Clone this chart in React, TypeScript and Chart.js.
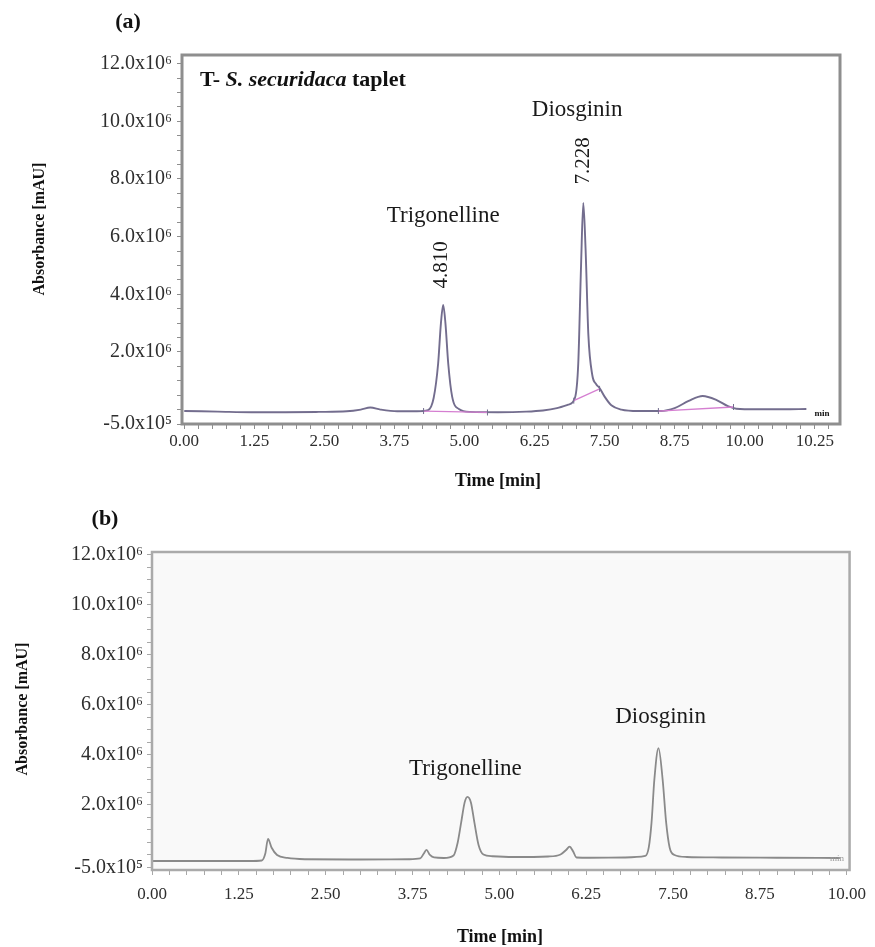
import React, { useEffect, useRef } from 'react';
import { Chart, registerables } from 'chart.js';

Chart.register(...registerables);

const FONT = '"Liberation Serif", "Times New Roman", serif';

// ---------------- Panel (a): T- S. securidaca taplet ----------------
// time [min] and absorbance [x10^6 mAU]
const timeA = [0.0, 0.6, 1.2, 1.8, 2.4, 2.9, 3.15, 3.32, 3.5, 3.8, 4.15, 4.35, 4.45, 4.53, 4.58, 4.62, 4.66, 4.71, 4.78, 4.9, 5.1, 5.6, 6.1, 6.4, 6.65, 6.85, 6.97, 7.03, 7.08, 7.12, 7.16, 7.21, 7.28, 7.35, 7.41, 7.5, 7.62, 7.8, 8.1, 8.5, 8.75, 9.0, 9.25, 9.5, 9.7, 9.85, 10.2, 10.7, 11.1];
const absA = [-0.05, -0.07, -0.09, -0.09, -0.08, -0.06, 0.0, 0.07, 0.0, -0.06, -0.06, -0.02, 0.4, 1.6, 3.0, 3.63, 3.0, 1.6, 0.45, 0.02, -0.08, -0.09, -0.07, -0.03, 0.05, 0.17, 0.4, 1.6, 5.0, 7.17, 5.6, 2.6, 1.2, 0.88, 0.75, 0.45, 0.15, 0.0, -0.05, -0.05, 0.05, 0.3, 0.47, 0.33, 0.12, 0.03, 0.01, 0.01, 0.02];

// integration baselines (pink)
const integStartTimeA = [4.27, 6.95, 8.46];
const integStartAbsA = [-0.05, 0.31, -0.05];
const integEndTimeA = [5.41, 7.41, 9.8];
const integEndAbsA = [-0.1, 0.72, 0.09];

const peakNamesA = ['Trigonelline', 'Diosginin'];
const peakNameTimeA = [4.62, 7.01];
const peakNameAbsA = [6.7, 10.4];
const peakRTLabelsA = ['4.810', '7.228'];
const peakRTTimeA = [4.59, 7.12];
const peakRTAbsA = [5.02, 8.63];

const xTickLabelsA = ['0.00', '1.25', '2.50', '3.75', '5.00', '6.25', '7.50', '8.75', '10.00', '10.25'];
const xTickValuesA = [0, 1.25, 2.5, 3.75, 5, 6.25, 7.5, 8.75, 10, 11.25];

// ---------------- Panel (b) ----------------
const timeB = [0.0, 0.8, 1.4, 1.58, 1.63, 1.67, 1.72, 1.8, 1.95, 2.2, 3.0, 3.7, 3.86, 3.91, 3.95, 4.0, 4.06, 4.2, 4.34, 4.4, 4.45, 4.5, 4.54, 4.59, 4.64, 4.7, 4.77, 4.9, 5.2, 5.7, 5.88, 5.96, 6.01, 6.06, 6.11, 6.3, 6.8, 7.1, 7.15, 7.19, 7.23, 7.29, 7.35, 7.4, 7.45, 7.52, 7.7, 8.2, 9.0, 9.9];
const absB = [-0.24, -0.24, -0.24, -0.22, 0.05, 0.64, 0.3, 0.0, -0.12, -0.17, -0.18, -0.17, -0.14, 0.05, 0.2, 0.0, -0.1, -0.12, -0.02, 0.5, 1.3, 2.1, 2.32, 2.1, 1.3, 0.4, 0.02, -0.05, -0.08, -0.06, 0.02, 0.2, 0.33, 0.15, -0.1, -0.11, -0.1, -0.04, 0.3, 1.3, 3.0, 4.27, 3.0, 1.3, 0.3, 0.0, -0.08, -0.1, -0.11, -0.12];

const peakNamesB = ['Trigonelline', 'Diosginin'];
const peakNameTimeB = [4.51, 7.32];
const peakNameAbsB = [3.43, 5.5];

const xTickLabelsB = ['0.00', '1.25', '2.50', '3.75', '5.00', '6.25', '7.50', '8.75', '10.00'];
const xTickValuesB = [0, 1.25, 2.5, 3.75, 5, 6.25, 7.5, 8.75, 10];

// shared y axis labels (x10^6 mAU)
const yTickLabels = ['-5.0x10\u2075', '2.0x10\u2076', '4.0x10\u2076', '6.0x10\u2076', '8.0x10\u2076', '10.0x10\u2076', '12.0x10\u2076'];
const yTickValues = [-0.5, 2, 4, 6, 8, 10, 12];

const X_AXIS_H = 40;

function labelFor(v: number, values: number[], labels: string[]): string {
  const i = values.findIndex((t) => Math.abs(t - v) < 1e-6);
  return i >= 0 ? labels[i] : '';
}

function drawText(ctx: CanvasRenderingContext2D, text: string, x: number, y: number, font: string, color: string, rotate = 0, align: CanvasTextAlign = 'center') {
  ctx.save();
  ctx.font = font;
  ctx.fillStyle = color;
  ctx.textAlign = align;
  ctx.textBaseline = 'middle';
  ctx.translate(x, y);
  if (rotate) ctx.rotate(rotate);
  ctx.fillText(text, 0, 0);
  ctx.restore();
}

interface PanelSpec {
  id: string;
  offsetTop: number;
  width: number;
  height: number;
  area: { left: number; top: number; right: number; bottom: number };
  xMin: number;
  xMax: number;
  yMin: number;
  yMax: number;
  xMinorCount: number;
  xTickValues: number[];
  xTickLabels: string[];
  xTickPad: number;
  yTickPad: number;
  tickColor: string;
  datasets: any[];
  background: string;
  frameColor: string;
  frameWidth: number;
  draw: (chart: any) => void;
}

const yMinor = Array.from({ length: 26 }, (_, i) => -0.5 + i * 0.5);

const lineA = '#736d8e';
const pinkA = '#d57fd1';

const datasetsA = [
  ...integStartTimeA.map((t, i) => ({
    data: [
      { x: t, y: integStartAbsA[i] },
      { x: integEndTimeA[i], y: integEndAbsA[i] },
    ],
    borderColor: pinkA,
    borderWidth: 1.3,
    pointStyle: 'line',
    rotation: 90,
    pointRadius: 3,
    pointBorderColor: lineA,
    pointBorderWidth: 1,
    order: 0,
  })),
  {
    data: timeA.map((t, i) => ({ x: t, y: absA[i] })),
    borderColor: lineA,
    borderWidth: 1.9,
    pointRadius: 0,
    cubicInterpolationMode: 'monotone',
    fill: false,
    order: 1,
  },
];

const datasetsB = [
  {
    data: timeB.map((t, i) => ({ x: t, y: absB[i] })),
    borderColor: '#8a8a8a',
    borderWidth: 1.8,
    pointRadius: 0,
    cubicInterpolationMode: 'monotone',
    fill: false,
  },
];

const panelA: PanelSpec = {
  id: 'a',
  offsetTop: 0,
  width: 875,
  height: 495,
  area: { left: 182, top: 55, right: 840, bottom: 424 },
  xMin: -0.04,
  xMax: 11.7,
  yMin: -0.5,
  yMax: 12.3,
  xMinorCount: 47,
  xTickValues: xTickValuesA,
  xTickLabels: xTickLabelsA,
  xTickPad: 2,
  yTickPad: 5,
  tickColor: '#8e8e8e',
  datasets: datasetsA,
  background: '#ffffff',
  frameColor: '#8e8e8e',
  frameWidth: 3,
  draw: (chart: any) => {
    const { ctx, chartArea: ca, scales } = chart;
    const x = scales.x;
    const y = scales.y;
    peakNamesA.forEach((n, i) =>
      drawText(ctx, n, x.getPixelForValue(peakNameTimeA[i]), y.getPixelForValue(peakNameAbsA[i]), `23px ${FONT}`, '#1a1a1a'),
    );
    peakRTLabelsA.forEach((n, i) =>
      drawText(ctx, n, x.getPixelForValue(peakRTTimeA[i]), y.getPixelForValue(peakRTAbsA[i]), `21px ${FONT}`, '#1a1a1a', -Math.PI / 2),
    );
    // sample title with italic species name
    const segs = [
      { t: 'T- ', it: false },
      { t: 'S. securidaca', it: true },
      { t: ' taplet', it: false },
    ];
    let px = ca.left + 18;
    const py = ca.top + 25;
    segs.forEach((s) => {
      const f = `${s.it ? 'italic ' : ''}bold 22px ${FONT}`;
      ctx.save();
      ctx.font = f;
      drawText(ctx, s.t, px, py, f, '#111111', 0, 'left');
      px += ctx.measureText(s.t).width;
      ctx.restore();
    });
    drawText(ctx, 'min', 822, 414, `bold 9px ${FONT}`, '#111111');
    drawText(ctx, '(a)', 128, 22, `bold 22px ${FONT}`, '#111111');
    drawText(ctx, 'Absorbance [mAU]', 40, 229, `bold 16px ${FONT}`, '#111111', -Math.PI / 2);
    drawText(ctx, 'Time [min]', 498, 481, `bold 18px ${FONT}`, '#111111');
  },
};

const panelB: PanelSpec = {
  id: 'b',
  offsetTop: 495,
  width: 875,
  height: 452,
  area: { left: 152, top: 57, right: 853, bottom: 375 },
  xMin: 0,
  xMax: 10.04,
  yMin: -0.6,
  yMax: 12.1,
  xMinorCount: 41,
  xTickValues: xTickValuesB,
  xTickLabels: xTickLabelsB,
  xTickPad: 9,
  yTickPad: 4,
  tickColor: '#a8a8a8',
  datasets: datasetsB,
  background: '#f9f9f9',
  frameColor: '#aaaaaa',
  frameWidth: 2.5,
  draw: (chart: any) => {
    const { ctx, scales } = chart;
    const x = scales.x;
    const y = scales.y;
    peakNamesB.forEach((n, i) =>
      drawText(ctx, n, x.getPixelForValue(peakNameTimeB[i]), y.getPixelForValue(peakNameAbsB[i]), `23px ${FONT}`, '#1a1a1a'),
    );
    drawText(ctx, 'min', 837, 364, `9px ${FONT}`, '#999999');
    drawText(ctx, '(b)', 105, 24, `bold 22px ${FONT}`, '#111111');
    drawText(ctx, 'Absorbance [mAU]', 23, 214, `bold 16px ${FONT}`, '#111111', -Math.PI / 2);
    drawText(ctx, 'Time [min]', 500, 442, `bold 18px ${FONT}`, '#111111');
  },
};

function makeConfig(p: PanelSpec): any {
  const xMinor = Array.from({ length: p.xMinorCount }, (_, i) => i * 0.25);
  const decor = {
    id: 'decor-' + p.id,
    beforeDatasetsDraw(chart: any) {
      const { ctx, chartArea: ca } = chart;
      ctx.save();
      ctx.fillStyle = p.background;
      ctx.fillRect(ca.left, ca.top, ca.right - ca.left, ca.bottom - ca.top);
      ctx.restore();
    },
    afterDatasetsDraw(chart: any) {
      const { ctx, chartArea: ca } = chart;
      ctx.save();
      ctx.strokeStyle = p.frameColor;
      ctx.lineWidth = p.frameWidth;
      ctx.strokeRect(ca.left, ca.top, ca.right - ca.left, ca.bottom - ca.top);
      ctx.restore();
      p.draw(chart);
    },
  };
  return {
    type: 'line',
    data: { datasets: p.datasets },
    options: {
      animation: false,
      responsive: false,
      maintainAspectRatio: false,
      devicePixelRatio: 1,
      events: [],
      layout: {
        padding: {
          left: 0,
          top: p.area.top,
          right: p.width - p.area.right,
          bottom: p.height - p.area.bottom - X_AXIS_H,
        },
      },
      plugins: {
        legend: { display: false },
        tooltip: { enabled: false },
        title: { display: false },
      },
      scales: {
        x: {
          type: 'linear',
          min: p.xMin,
          max: p.xMax,
          afterFit: (s: any) => {
            s.height = X_AXIS_H;
          },
          afterBuildTicks: (s: any) => {
            s.ticks = xMinor.map((v) => ({ value: v }));
          },
          ticks: {
            autoSkip: false,
            maxRotation: 0,
            minRotation: 0,
            padding: p.xTickPad,
            color: '#2e2e2e',
            font: { family: FONT, size: 17 },
            callback: (v: number) => labelFor(v, p.xTickValues, p.xTickLabels),
          },
          grid: { drawOnChartArea: false, drawTicks: true, tickLength: 5, color: p.tickColor },
          border: { display: false },
        },
        y: {
          type: 'linear',
          min: p.yMin,
          max: p.yMax,
          afterFit: (s: any) => {
            s.width = p.area.left;
          },
          afterBuildTicks: (s: any) => {
            s.ticks = yMinor.map((v) => ({ value: v }));
          },
          ticks: {
            autoSkip: false,
            padding: p.yTickPad,
            color: '#2e2e2e',
            font: { family: FONT, size: 20 },
            callback: (v: number) => labelFor(v, yTickValues, yTickLabels),
          },
          grid: { drawOnChartArea: false, drawTicks: true, tickLength: 5, color: p.tickColor },
          border: { display: false },
        },
      },
    },
    plugins: [decor],
  };
}

function ChartPanel({ spec }: { spec: PanelSpec }) {
  const ref = useRef<HTMLCanvasElement>(null);
  useEffect(() => {
    if (!ref.current) return;
    const chart = new Chart(ref.current, makeConfig(spec));
    return () => chart.destroy();
  }, [spec]);
  return (
    <canvas
      ref={ref}
      width={spec.width}
      height={spec.height}
      style={{ position: 'absolute', left: 0, top: spec.offsetTop, width: spec.width, height: spec.height, display: 'block' }}
    />
  );
}

export default function App() {
  return (
    <div style={{ position: 'absolute', left: 0, top: 0, width: 875, height: 947, background: '#ffffff' }}>
      <ChartPanel spec={panelA} />
      <ChartPanel spec={panelB} />
    </div>
  );
}
